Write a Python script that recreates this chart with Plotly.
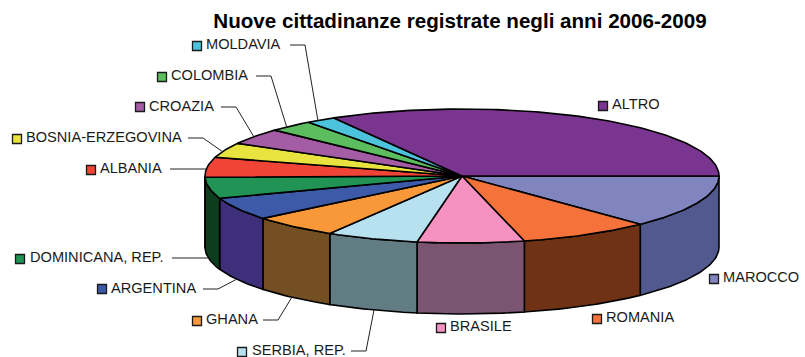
import numpy as np
import plotly.graph_objects as go

categories = ["MAROCCO", "ROMANIA", "BRASILE", "SERBIA, REP.", "GHANA", "ARGENTINA",
              "DOMINICANA, REP.", "ALBANIA", "BOSNIA-ERZEGOVINA", "CROAZIA",
              "COLOMBIA", "MOLDAVIA", "ALTRO"]
values = [12.8, 8.3, 6.7, 5.8, 5.5, 5.5, 5.1, 4.8, 3.6, 3.9, 2.8, 1.9, 33.3]
top_colors = ["#8185BF", "#F5733A", "#F592BF", "#B7E1EF", "#F89838", "#3D5AA8",
              "#219354", "#F04436", "#E9E33F", "#A45DA4", "#5BBD5E", "#4CC2DC", "#7A3590"]
side_colors = ["#51598F", "#703214", "#7A5470", "#617C83", "#744F23", "#3D2F7A",
               "#0E3D1E", "#000000", "#000000", "#000000", "#000000", "#000000", "#000000"]

# Label layout: key-square centre, text left edge, text centre y
label_layout = {
    "MOLDAVIA": (197, 46, 205, 44), "COLOMBIA": (162, 77, 170, 75),
    "CROAZIA": (140, 107, 148, 106), "BOSNIA-ERZEGOVINA": (17, 139, 25, 137),
    "ALBANIA": (91, 170, 99, 168), "DOMINICANA, REP.": (20, 259, 29, 257),
    "ARGENTINA": (102, 289, 110, 288), "GHANA": (197, 321, 205, 319),
    "SERBIA, REP.": (242, 352, 251, 350), "BRASILE": (441, 328, 449, 326),
    "ROMANIA": (597, 319, 605, 317), "MAROCCO": (714, 279, 722, 277),
    "ALTRO": (603, 106, 611, 104),
}
leaders = {
    "MOLDAVIA": [(290, 45), (305, 45), (318, 121)],
    "COLOMBIA": [(256, 76), (271, 76), (287, 128)],
    "CROAZIA": [(221, 107), (236, 107), (254, 137)],
    "BOSNIA-ERZEGOVINA": [(188, 138), (203, 138), (223, 152)],
    "ALBANIA": [(170, 169), (206, 169)],
    "DOMINICANA, REP.": [(172, 258), (208, 258)],
    "ARGENTINA": [(203, 289), (218, 289), (237, 279)],
    "GHANA": [(263, 320), (278, 320), (292, 297)],
    "SERBIA, REP.": [(351, 351), (366, 351), (374, 310)],
}

CX, CY, RX, RY, DEPTH = 462, 176, 257, 67, 71
FONT = "Liberation Sans"

fig = go.Figure()
edges = np.cumsum([0] + values) / sum(values) * 2 * np.pi


def arc(a0, a1):
    t = np.linspace(a0, a1, max(3, int((a1 - a0) * 60)))
    return CX + RX * np.cos(t), CY + RY * np.sin(t)


def poly(x, y, color, width=1.6):
    fig.add_trace(go.Scatter(x=x, y=y, mode="lines", fill="toself", fillcolor=color,
                             line=dict(color="#000000", width=width),
                             hoverinfo="skip", showlegend=False))


# side walls of the front half
for i, c in enumerate(categories):
    a0, a1 = edges[i], min(edges[i + 1], np.pi)
    if a0 >= np.pi:
        continue
    x, y = arc(a0, a1)
    poly(np.r_[x, x[::-1], x[0]], np.r_[y, y[::-1] + DEPTH, y[0]], side_colors[i])

# top slices
for i, c in enumerate(categories):
    x, y = arc(edges[i], edges[i + 1])
    poly(np.r_[CX, x, CX], np.r_[CY, y, CY], top_colors[i])

# leader lines
for name, pts in leaders.items():
    xs, ys = zip(*pts)
    fig.add_trace(go.Scatter(x=xs, y=ys, mode="lines",
                             line=dict(color="#222222", width=1),
                             hoverinfo="skip", showlegend=False))

# keys and labels
fig.add_trace(go.Scatter(
    x=[label_layout[c][0] for c in categories],
    y=[label_layout[c][1] for c in categories],
    mode="markers",
    marker=dict(symbol="square", size=9, color=top_colors,
                line=dict(color="#1a1a1a", width=1.3)),
    hoverinfo="skip", showlegend=False))
for c in categories:
    _, _, tx, ty = label_layout[c]
    fig.add_annotation(x=tx, y=ty, text=c, showarrow=False, xanchor="left", yanchor="middle",
                       xref="x", yref="y", xshift=-1,
                       font=dict(family=FONT, size=14.6, color="#1a1a1a"))

fig.update_layout(
    width=805, height=357, margin=dict(l=0, r=0, t=0, b=0),
    paper_bgcolor="white", plot_bgcolor="white",
    title=dict(text="<b>Nuove cittadinanze registrate negli anni 2006-2009</b>",
               x=460 / 805, xanchor="center", y=1 - 21 / 357, yanchor="middle",
               font=dict(family=FONT, size=20.6, color="#000000")),
    xaxis=dict(range=[0, 805], visible=False, fixedrange=True),
    yaxis=dict(range=[357, 0], visible=False, fixedrange=True),
)
fig.write_html("out.html", config={"displayModeBar": False},
               post_script="document.body.style.margin='0';document.body.style.overflow='hidden';")
